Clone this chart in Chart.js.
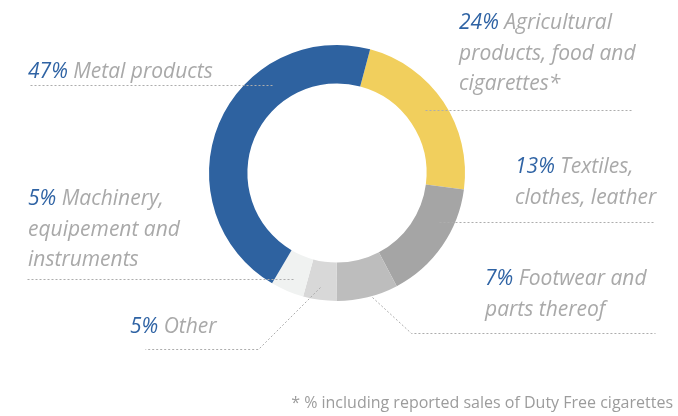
<!DOCTYPE html>
<html>
<head>
<meta charset="utf-8">
<script src="https://cdn.jsdelivr.net/npm/chart.js@4"></script>
<style>
  html, body { margin: 0; padding: 0; background: #fff; }
  #wrap { width: 678px; height: 416px; position: relative; }
</style>
</head>
<body>
<div id="wrap"><canvas id="exportChart" width="678" height="416"></canvas></div>
<script>
// slices clockwise from the top, shares
const categories = [
  "Agricultural products, food and cigarettes*",
  "Textiles, clothes, leather",
  "Footwear and parts thereof",
  "Other",
  "Machinery, equipement and instruments",
  "Metal products",
];
const percentLabels = ["24%", "13%", "7%", "5%", "5%", "47%"];
const sliceShares = [22.9, 15.2, 7.8, 4.2, 4.2, 45.7];
const sliceColors = ["#F1CF5D", "#A5A5A5", "#BDBDBD", "#D8D8D8", "#F0F2F1", "#2E62A0"];
const footnote = "* % including reported sales of Duty Free cigarettes";

// label text split over lines, with where each label and its leader go
const labelLayout = [
  { lines: ["Agricultural", "products, food and", "cigarettes*"], x: 459, y: 29,
    leader: [[425, 110], [631, 110]] },
  { lines: ["Textiles,", "clothes, leather"], x: 515, y: 173,
    leader: [[439, 222], [655, 222]] },
  { lines: ["Footwear and", "parts thereof"], x: 485, y: 285,
    leader: [[372, 297], [411, 333], [655, 333]] },
  { lines: ["Other"], x: 130, y: 333,
    leader: [[320, 287], [258, 349], [145, 349]] },
  { lines: ["Machinery,", "equipement and", "instruments"], x: 28, y: 205,
    leader: [[293, 279], [25, 279]] },
  { lines: ["Metal products"], x: 28, y: 78,
    leader: [[272, 85], [28, 85]] },
];

const LABEL_FONT = 'italic 21px "Open Sans"';
const LINE_GAP = 30.7;

const calloutPlugin = {
  id: "callouts",
  afterDraw(chart) {
    const ctx = chart.ctx;
    ctx.save();
    // dotted leaders
    ctx.strokeStyle = "#ADADAD";
    ctx.lineWidth = 1;
    ctx.setLineDash([2, 2]);
    labelLayout.forEach((item) => {
      ctx.beginPath();
      item.leader.forEach((p, i) => {
        if (i === 0) ctx.moveTo(p[0] + 0.5, p[1] + 0.5);
        else ctx.lineTo(p[0] + 0.5, p[1] + 0.5);
      });
      ctx.stroke();
    });
    ctx.setLineDash([]);

    // label text: blue share, grey name
    ctx.font = LABEL_FONT;
    ctx.textBaseline = "alphabetic";
    ctx.textAlign = "left";
    labelLayout.forEach((item, i) => {
      item.lines.forEach((line, j) => {
        let x = item.x;
        const y = item.y + j * LINE_GAP;
        if (j === 0) {
          ctx.fillStyle = "#2F63A4";
          ctx.fillText(percentLabels[i], x, y);
          x += ctx.measureText(percentLabels[i] + " ").width;
        }
        ctx.fillStyle = "#A9A9A9";
        ctx.fillText(line, x, y);
      });
    });

    ctx.font = '16px "Open Sans"';
    ctx.fillStyle = "#9C9C9C";
    ctx.textAlign = "right";
    ctx.fillText(footnote, 673, 408);
    ctx.restore();
  },
};

const ctx = document.getElementById("exportChart").getContext("2d");
const exportChart = new Chart(ctx, {
  type: "doughnut",
  data: {
    labels: categories,
    datasets: [
      {
        data: sliceShares,
        backgroundColor: sliceColors,
        borderWidth: 0,
      },
    ],
  },
  options: {
    responsive: false,
    animation: false,
    devicePixelRatio: 1,
    rotation: 15,
    cutout: "70%",
    layout: {
      padding: { left: 209, right: 213, top: 45, bottom: 115 },
    },
    plugins: {
      legend: { display: false },
      tooltip: { enabled: false },
    },
  },
  plugins: [calloutPlugin],
});
</script>
</body>
</html>
